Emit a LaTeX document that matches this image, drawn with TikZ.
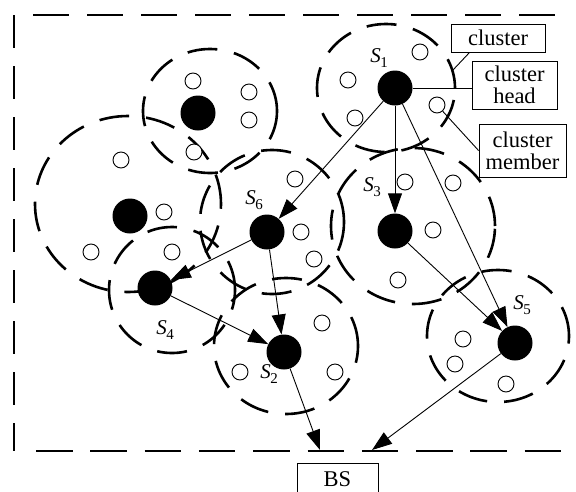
\documentclass[tikz,border=0pt]{standalone}
\usepackage{fontspec}
\setmainfont{Liberation Serif}
\usetikzlibrary{arrows.meta,calc}
\newcommand\Slab[1]{\textit{S}\kern-0.5pt\raisebox{-5pt}{\fontsize{15}{15}\selectfont #1}}
\begin{document}
\begin{tikzpicture}[x=1pt,y=-1pt,
  head/.style={circle,fill=black,inner sep=0pt,minimum size=35pt},
  mem/.style={circle,draw,fill=white,line width=0.9pt,inner sep=0pt,minimum size=16pt},
  clus/.style={line width=2.6pt,dash pattern=on 30pt off 17pt},
  frameline/.style={line width=2.6pt},
  arr/.style={line width=0.9pt,-{Triangle[length=20pt,width=14pt]}},
  lbl/.style={font=\fontsize{21}{21}\selectfont,inner sep=0pt},
  box/.style={draw,line width=0.9pt,align=center,inner sep=0pt,font=\fontsize{22.5}{22}\selectfont},
  thinline/.style={line width=0.9pt}]
\useasboundingbox (0,0) rectangle (576,491);
% frame
\draw[frameline,dash pattern=on 36pt off 18pt] (33,15) -- (562,15);
\draw[frameline,dash pattern=on 33pt off 18pt] (14,15) -- (14,451);
\draw[frameline,dash pattern=on 36.5pt off 17.8pt] (36,451) -- (564,451);
% clusters
\draw[clus] (210,111) ellipse [x radius=67pt, y radius=62pt];
\draw[clus] (128,204) ellipse [x radius=93pt, y radius=88pt];
\draw[clus] (386,88) ellipse [x radius=69pt, y radius=64pt];
\draw[clus] (272,222) circle [radius=72pt];
\draw[clus] (413,226) ellipse [x radius=82pt, y radius=78pt];
\draw[clus] (172,290) circle [radius=63pt];
\draw[clus] (286,346) ellipse [x radius=72pt, y radius=68pt];
\draw[clus] (498,336) ellipse [x radius=71pt, y radius=66pt];
% heads
\node[head] (hA) at (198,113) {};
\node[head] (hB) at (130,216) {};
\node[head] (S1) at (395,88) {};
\node[head] (S3) at (395,231) {};
\node[head] (S6) at (267,232) {};
\node[head] (S4) at (155,288) {};
\node[head] (S2) at (284,352) {};
\node[head] (S5) at (515,343) {};
% members
\node[mem] (m1) at (193,81) {};
\node[mem] (m2) at (249,92) {};
\node[mem] (m3) at (249,120) {};
\node[mem] (m4) at (194,152) {};
\node[mem] (m5) at (121,160) {};
\node[mem] (m6) at (164,212) {};
\node[mem] (m7) at (91,252) {};
\node[mem] (m8) at (172,252) {};
\node[mem] (m9) at (420,52) {};
\node[mem] (m10) at (348,80) {};
\node[mem] (m11) at (355,118) {};
\node[mem] (m12) at (437,105) {};
\node[mem] (m13) at (295,179) {};
\node[mem] (m14) at (301,232) {};
\node[mem] (m15) at (314,259) {};
\node[mem] (m16) at (405,182) {};
\node[mem] (m17) at (453,183) {};
\node[mem] (m18) at (433,230) {};
\node[mem] (m19) at (398,280) {};
\node[mem] (m20) at (240,372) {};
\node[mem] (m21) at (322,323) {};
\node[mem] (m22) at (335,372) {};
\node[mem] (m23) at (463,339) {};
\node[mem] (m24) at (455,364) {};
\node[mem] (m25) at (506,384) {};
% labels
\node[lbl] (l1) at (379,58) {\Slab{1}};
\node[lbl] (l3) at (372,187) {\Slab{3}};
\node[lbl] (l6) at (254,200) {\Slab{6}};
\node[lbl] (l4) at (165,330) {\Slab{4}};
\node[lbl] (l2) at (269,374) {\Slab{2}};
\node[lbl] (l5) at (522,305) {\Slab{5}};
% boxes
\node[box,fill=white,minimum width=94pt,minimum height=28pt] (bcl) at (498,38) {cluster};
\node[box,fill=white,minimum width=85pt,minimum height=48pt] (bhead) at (514.5,85) {cluster\\head};
\node[box,fill=white,minimum width=87pt,minimum height=53pt] (bmem) at (522.5,150.5) {cluster\\member};
\node[box,minimum width=81pt,minimum height=32pt] (bs) at (337.5,479) {BS};
\coordinate (clpt) at (453,70);
\draw[thinline] ($(bcl.south west)+(19,0)$) -- (clpt);
\draw[thinline] (S1.east) -- (S1.east -| bhead.west);
\draw[thinline] (m12) -- (bmem.west);
% arrows
\draw[arr] (S1) -- (S6);
\draw[arr] (S1) -- (S3);
\draw[arr] (S1) -- (S5);
\draw[arr] (S6) -- (S4);
\draw[arr] (S6) -- (S2);
\draw[arr] (S4) -- (S2);
\draw[arr] (S3) -- (S5);
\coordinate (bs1) at (320,450);
\coordinate (bs2) at (372,450);
\draw[arr] (S2) -- (bs1);
\draw[arr] (S5) -- (bs2);
\end{tikzpicture}
\end{document}
